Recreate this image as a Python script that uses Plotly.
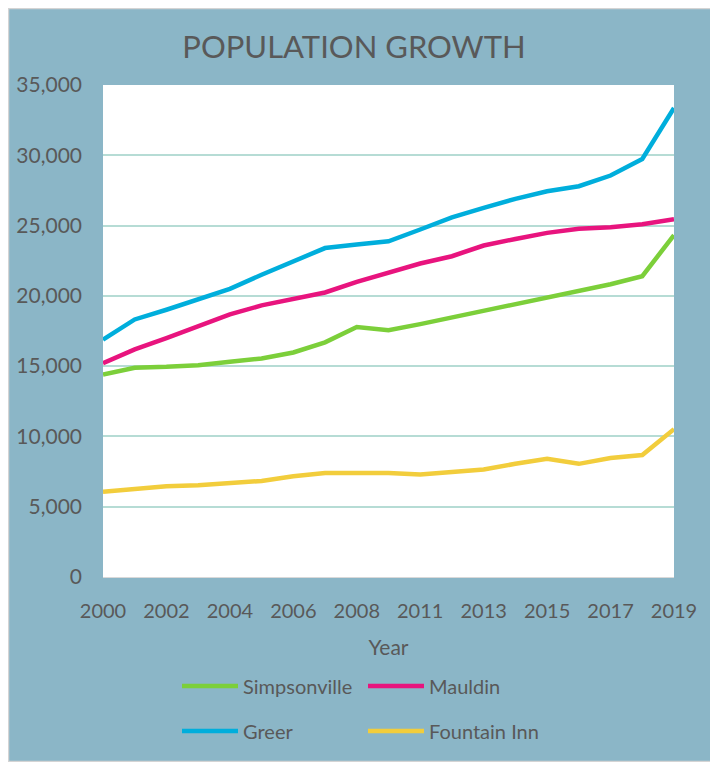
import plotly.graph_objects as go

years = ["2000", "2001", "2002", "2003", "2004", "2005", "2006", "2007", "2008",
         "2010", "2011", "2012", "2013", "2014", "2015", "2016", "2017", "2018", "2019"]
tick_years = years[::2]

simpsonville = [14410, 14880, 14950, 15070, 15310, 15550, 15970, 16690, 17780,
                17560, 17990, 18460, 18980, 19410, 19930, 20360, 20830, 21400, 24320]
mauldin = [15210, 16190, 16990, 17820, 18680, 19320, 19790, 20240, 21000,
           21650, 22300, 22820, 23580, 24050, 24480, 24780, 24880, 25100, 25450]
greer = [16880, 18320, 19010, 19720, 20500, 21500, 22470, 23400, 23650,
         23880, 24720, 25590, 26260, 26900, 27440, 27800, 28560, 29740, 33370]
fountain_inn = [6060, 6290, 6460, 6530, 6650, 6830, 7160, 7390, 7390,
                7390, 7300, 7460, 7650, 8050, 8410, 8050, 8460, 8680, 10520]

series = [
    ("Simpsonville", simpsonville, "#7ccf3a", "legend"),
    ("Mauldin", mauldin, "#e8147e", "legend"),
    ("Greer", greer, "#00aedc", "legend2"),
    ("Fountain Inn", fountain_inn, "#f2cd3c", "legend2"),
]

# figure is placed by the page at an 8px offset (body margin)
W, H = 706, 754
ML, MR, MT, MB = 95, 40, 77, 185
PW, PH = W - ML - MR, H - MT - MB


def px_x(px):
    return (px - ML) / PW


def px_y(py):
    return (H - MB - py) / PH


BG = "#8bb6c7"
TXT = "#595959"
FONT = "Lato, Carlito, 'Open Sans', sans-serif"

fig = go.Figure()
for name, vals, color, lg in series:
    fig.add_trace(go.Scatter(
        x=years, y=vals, name=name, mode="lines",
        line=dict(color=color, width=4.5),
        legend=lg,
    ))

shapes = [
    dict(type="rect", xref="paper", yref="paper", x0=px_x(0.5), x1=px_x(W - 0.5),
         y0=px_y(H - 0.5), y1=px_y(0.5), fillcolor="rgba(0,0,0,0)",
         line=dict(color="#d4d4d4", width=1.5), layer="above"),
]

legend_common = dict(
    orientation="h", xref="paper", yref="paper", xanchor="left", yanchor="middle",
    bgcolor="rgba(0,0,0,0)", font=dict(family=FONT, size=20, color=TXT),
    entrywidth=115, entrywidthmode="pixels", itemwidth=56, tracegroupgap=0,
)

fig.update_layout(
    width=W, height=H,
    margin=dict(l=ML, r=MR, t=MT, b=MB, autoexpand=False),
    paper_bgcolor=BG, plot_bgcolor="white",
    font=dict(family=FONT, size=20, color=TXT),
    title=dict(text="POPULATION GROWTH", x=346 / W, xref="container", xanchor="center",
               y=1 - 39 / H, yref="container", yanchor="middle",
               font=dict(family=FONT, size=31, color=TXT)),
    xaxis=dict(
        type="category", categoryorder="array", categoryarray=years,
        range=[0, len(years) - 1], automargin=False,
        tickmode="array", tickvals=tick_years, ticktext=tick_years,
        showgrid=False, showline=True, linecolor="#d9d9d9", linewidth=1,
        ticks="", ticklabelstandoff=16,
        tickfont=dict(family=FONT, size=20, color=TXT),
        title=dict(text="Year", standoff=19, font=dict(family=FONT, size=21, color=TXT)),
        zeroline=False, fixedrange=True,
    ),
    yaxis=dict(
        range=[0, 35000], dtick=5000, tickformat=",", automargin=False,
        showgrid=True, gridcolor="#b6dcd5", gridwidth=1.5,
        showline=False, zeroline=False, ticks="", ticklabelstandoff=20,
        tickfont=dict(family=FONT, size=21, color=TXT),
        fixedrange=True,
    ),
    legend=dict(x=px_x(169), y=px_y(678), **legend_common),
    legend2=dict(x=px_x(169), y=px_y(723), **legend_common),
    shapes=shapes,
)

fig.write_html("out.html")
